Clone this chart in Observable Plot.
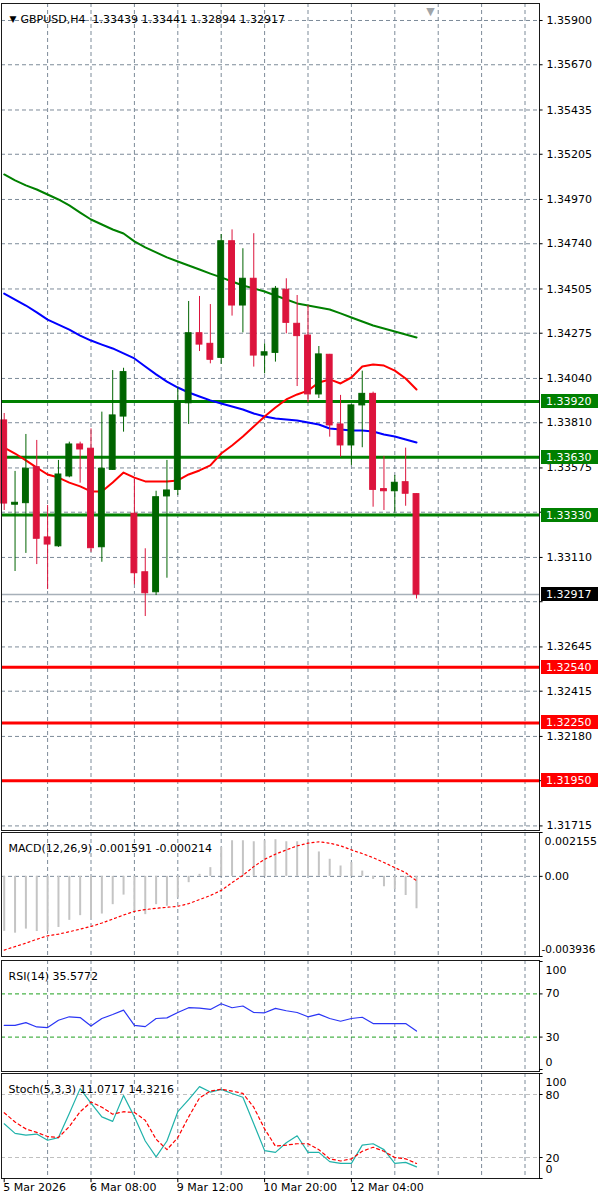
<!DOCTYPE html>
<html>
<head>
<meta charset="utf-8">
<script src="https://cdn.jsdelivr.net/npm/d3@7"></script>
<script src="https://cdn.jsdelivr.net/npm/@observablehq/plot@0.6"></script>
<style>
html, body { margin: 0; padding: 0; background: #fff; }
#chart { position: relative; width: 600px; height: 1201px; overflow: hidden; background: #fff; }
#chart svg { position: absolute; left: 0; }
</style>
</head>
<body>
<div id="chart"></div>
<script>
// ---------------- DATA ----------------
const symbol = "GBPUSD,H4";
const dateTickBars = [0, 8, 16, 24, 32];
const dateTickLabels = ["5 Mar 2026", "6 Mar 08:00", "9 Mar 12:00", "10 Mar 20:00", "12 Mar 04:00"];

const open  = [1.33822,1.33384,1.33392,1.33579,1.33214,1.33168,1.33531,1.33697,1.33675,1.33163,1.33565,1.33842,1.33337,1.33033,1.32929,1.33427,1.33461,1.33911,1.34275,1.34220,1.34147,1.34753,1.34419,1.34558,1.34159,1.34173,1.34501,1.34324,1.34263,1.33957,1.34163,1.33801,1.33692,1.33900,1.33960,1.33465,1.33454,1.33501,1.33439];
const high  = [1.33858,1.33557,1.33749,1.33718,1.33380,1.33614,1.33709,1.33709,1.33778,1.33865,1.34081,1.34093,1.33519,1.33155,1.33454,1.33614,1.33995,1.34440,1.34466,1.34424,1.34788,1.34812,1.34714,1.34792,1.34220,1.34518,1.34558,1.34471,1.34419,1.34206,1.34165,1.33952,1.33905,1.34078,1.33969,1.33635,1.33536,1.33678,1.33441];
const low   = [1.33354,1.33037,1.33131,1.33073,1.32943,1.33162,1.33524,1.33496,1.33137,1.33085,1.33562,1.33761,1.32968,1.32803,1.32912,1.33002,1.33432,1.33801,1.34180,1.34116,1.34113,1.34364,1.34277,1.34099,1.34064,1.34125,1.34272,1.33998,1.33915,1.33936,1.33735,1.33631,1.33588,1.33680,1.33371,1.33354,1.33340,1.33376,1.32894];
const close = [1.33390,1.33394,1.33571,1.33207,1.33177,1.33541,1.33697,1.33671,1.33158,1.33571,1.33848,1.34073,1.33028,1.32924,1.33423,1.33458,1.33920,1.34275,1.34216,1.34137,1.34753,1.34419,1.34558,1.34159,1.34176,1.34506,1.34329,1.34260,1.33957,1.34165,1.33796,1.33692,1.33900,1.33960,1.33461,1.33454,1.33498,1.33441,1.32917];

const maSlow = [1.35100,1.35069,1.35043,1.35022,1.34996,1.34970,1.34939,1.34902,1.34866,1.34840,1.34814,1.34793,1.34752,1.34721,1.34695,1.34669,1.34648,1.34627,1.34606,1.34585,1.34565,1.34544,1.34523,1.34508,1.34492,1.34471,1.34450,1.34430,1.34419,1.34409,1.34398,1.34378,1.34357,1.34336,1.34315,1.34300,1.34284,1.34268,1.34253];
const maMid  = [1.34481,1.34450,1.34419,1.34383,1.34346,1.34320,1.34294,1.34263,1.34237,1.34216,1.34196,1.34170,1.34144,1.34102,1.34061,1.34024,1.33993,1.33967,1.33946,1.33926,1.33910,1.33894,1.33879,1.33858,1.33842,1.33832,1.33827,1.33822,1.33811,1.33801,1.33780,1.33775,1.33770,1.33770,1.33764,1.33749,1.33738,1.33723,1.33707];
const maFast = [1.33681,1.33650,1.33614,1.33577,1.33541,1.33525,1.33499,1.33479,1.33453,1.33453,1.33499,1.33551,1.33525,1.33505,1.33505,1.33505,1.33510,1.33541,1.33562,1.33588,1.33650,1.33692,1.33738,1.33790,1.33842,1.33889,1.33931,1.33957,1.33977,1.34019,1.34035,1.34014,1.34045,1.34102,1.34113,1.34107,1.34081,1.34040,1.33983];

const resistanceLevels = [1.33920, 1.33630, 1.33330];
const supportLevels = [1.32540, 1.32250, 1.31950];

const priceGridTicks = [1.35900,1.35670,1.35435,1.35205,1.34970,1.34740,1.34505,1.34275,1.34040,1.33810,1.33575,1.33345,1.33110,1.32880,1.32645,1.32415,1.32180,1.31950,1.31715];
const priceTickLabels = [1.35900,1.35670,1.35435,1.35205,1.34970,1.34740,1.34505,1.34275,1.34040,1.33810,1.33575,1.33110,1.32645,1.32415,1.32180,1.31715];

const macdHist = [-0.00270,-0.00279,-0.00259,-0.00271,-0.00270,-0.00251,-0.00216,-0.00193,-0.00210,-0.00185,-0.00139,-0.00092,-0.00173,-0.00188,-0.00139,-0.00147,-0.00106,-0.00031,0.00010,0.00043,0.00142,0.00175,0.00175,0.00170,0.00175,0.00180,0.00170,0.00170,0.00158,0.00120,0.00084,0.00051,0.00068,0.00026,-0.00015,-0.00051,-0.00064,-0.00094,-0.001591];
const macdSignal = [-0.00362,-0.00345,-0.00328,-0.00309,-0.00292,-0.00284,-0.00272,-0.00259,-0.00246,-0.00229,-0.00210,-0.00190,-0.00172,-0.00163,-0.00157,-0.00152,-0.00147,-0.00134,-0.00114,-0.00094,-0.00069,-0.00031,0.00005,0.00048,0.00084,0.00109,0.00130,0.00150,0.00163,0.00170,0.00163,0.00150,0.00130,0.00112,0.00092,0.00068,0.00043,0.00018,-0.000214];
const macdTickValues = [0.002155, 0, -0.003936];
const macdTickLabels = ["0.002155", "0.00", "-0.003936"];

const rsi = [40.9,40.9,43.4,39.4,38.8,45.6,48.8,48.1,40.3,47.2,50.9,55.0,40.9,39.7,47.2,47.8,52.8,57.2,56.9,55.6,60.9,57.2,58.8,52.8,52.5,56.6,54.4,52.8,48.8,51.3,47.2,44.7,47.2,48.4,42.5,42.5,42.5,42.5,35.5772];
const rsiLevels = [70, 30];
const rsiTickValues = [100, 70, 30, 0];

const stochK = [52.1,43.0,41.3,42.3,36.4,39.0,62.0,85.6,71.8,58.7,54.4,79.0,58.7,35.7,20.6,35.7,63.6,75.1,87.5,82.3,84.9,81.0,77.4,52.1,26.6,24.9,34.1,40.7,24.9,24.9,16.1,14.4,14.4,31.8,33.1,27.5,14.4,15.4,11.0717];
const stochD = [62.6,53.8,47.2,43.9,40.0,39.0,49.5,63.6,72.8,67.9,61.3,63.6,62.9,55.4,37.4,27.5,39.0,58.7,76.7,83.3,84.9,83.3,81.0,67.9,47.2,30.8,31.8,33.1,33.1,27.5,18.7,16.7,18.7,25.9,29.8,25.9,20.0,18.7,14.3216];
const stochLevels = [80, 20];
const stochTickValues = [100, 80, 20, 0];

// ---------------- STYLE / LAYOUT ----------------
const W = 600;
const FONT = "DejaVu Sans";
const FS = 11;
const GRID = "#7d8b99";
const DASH = "4,3";
const UP = "#006400";
const DN = "#dc143c";
const FRAME = "#1a1a1a";
const xDomain = [-0.249, 49.336];
const mL = 1, mR = 61;

const n = close.length;
const idx = d3.range(n);
const bars = idx.map(i => ({i, o: open[i], h: high[i], l: low[i], c: close[i]}));
const ups = bars.filter(d => d.c >= d.o);
const downs = bars.filter(d => d.c < d.o);
const gridBars = d3.range(4, 49, 4);
const last = n - 1;

const txt = {fontFamily: FONT, fontSize: FS, fill: "#000"};

function rightTicks(values) {
  return Plot.ruleY(values, {x1: xDomain[1], x2: xDomain[1] + 0.33, stroke: "#000"});
}

function priceBoxes(items) {
  return (index, scales, values, dim) => {
    const g = d3.create("svg:g");
    const x0 = dim.width - dim.marginRight + 2;
    for (const d of items) {
      const y = Math.round(scales.y(d.value));
      g.append("rect").attr("x", x0).attr("y", y - 7).attr("width", 57).attr("height", 14).attr("fill", d.bg);
      g.append("text").attr("x", x0 + 5).attr("y", y).attr("dy", "0.36em")
        .attr("text-anchor", "start")
        .attr("fill", "#fff").attr("font-family", FONT).attr("font-size", FS).text(d.value.toFixed(5));
    }
    return g.node();
  };
}

const chart = document.getElementById("chart");
function place(svg, top) {
  svg.style.top = top + "px";
  svg.style.position = "absolute";
  svg.style.background = "transparent";
  chart.appendChild(svg);
}

// ---------------- MAIN PRICE PANEL ----------------
const header = `${symbol}  ${open[last].toFixed(5)} ${high[last].toFixed(5)} ${low[last].toFixed(5)} ${close[last].toFixed(5)}`;
const boxes = [
  ...resistanceLevels.map(v => ({value: v, bg: "#008000"})),
  ...supportLevels.map(v => ({value: v, bg: "#ff0000"})),
  {value: close[last], bg: "#000000"}
];

const mainPlot = Plot.plot({
  width: W, height: 833,
  marginTop: 3, marginBottom: 3, marginLeft: mL, marginRight: mR,
  style: {background: "transparent"},
  x: {domain: xDomain, axis: null},
  y: {domain: [1.316912, 1.359883], axis: null},
  marks: [
    Plot.ruleY(priceGridTicks, {stroke: GRID, strokeDasharray: DASH}),
    Plot.ruleX(gridBars, {stroke: GRID, strokeDasharray: DASH}),
    Plot.ruleY([close[last]], {stroke: "#a7b0b9", strokeWidth: 1.5}),
    Plot.ruleY(resistanceLevels, {stroke: "#008000", strokeWidth: 3}),
    Plot.ruleY(supportLevels, {stroke: "#ff0000", strokeWidth: 3}),
    Plot.line(idx, {x: i => i, y: i => maSlow[i], stroke: "#008000", strokeWidth: 2}),
    Plot.line(idx, {x: i => i, y: i => maMid[i], stroke: "#0000ff", strokeWidth: 2}),
    Plot.line(idx, {x: i => i, y: i => maFast[i], stroke: "#ff0000", strokeWidth: 2}),
    Plot.ruleX(ups, {x: "i", y1: "l", y2: "h", stroke: UP}),
    Plot.ruleX(downs, {x: "i", y1: "l", y2: "h", stroke: DN}),
    Plot.rect(ups, {x1: d => d.i - 0.27, x2: d => d.i + 0.27, y1: "o", y2: "c", fill: UP, stroke: UP}),
    Plot.rect(downs, {x1: d => d.i - 0.27, x2: d => d.i + 0.27, y1: "o", y2: "c", fill: DN, stroke: DN}),
    Plot.frame({stroke: FRAME}),
    rightTicks(priceGridTicks),
    Plot.text(priceTickLabels, {y: d => d, text: d => d.toFixed(5), frameAnchor: "right", dx: 7, textAnchor: "start", ...txt}),
    priceBoxes(boxes),
    Plot.text(["▼"], {frameAnchor: "top-left", dx: 8, dy: 12, fontSize: 9, fontFamily: FONT, fill: "#000"}),
    Plot.text([header], {frameAnchor: "top-left", dx: 19, dy: 12, textAnchor: "start", ...txt}),
    Plot.text(["▼"], {frameAnchor: "top", dx: 160, dy: 4, fontSize: 11, fontFamily: FONT, fill: "#a0a4a8"})
  ]
});
place(mainPlot, 0);

// ---------------- MACD PANEL ----------------
const macdLabel = `MACD(12,26,9) ${macdHist[last].toFixed(6)} ${macdSignal[last].toFixed(6)}`;
const macdPlot = Plot.plot({
  width: W, height: 128,
  marginTop: 2, marginBottom: 2, marginLeft: mL, marginRight: mR,
  style: {background: "transparent"},
  x: {domain: xDomain, axis: null},
  y: {domain: [macdTickValues[2], macdTickValues[0]], axis: null},
  marks: [
    Plot.ruleX(gridBars, {stroke: GRID, strokeDasharray: DASH}),
    Plot.ruleY([0], {stroke: GRID, strokeDasharray: DASH}),
    Plot.ruleX(idx, {x: i => i, y1: 0, y2: i => macdHist[i], stroke: "#c4c4c4", strokeWidth: 2}),
    Plot.line(idx, {x: i => i, y: i => macdSignal[i], stroke: "#ff0000", strokeDasharray: "2,3", strokeWidth: 1.2}),
    Plot.frame({stroke: FRAME}),
    Plot.text([macdLabel], {frameAnchor: "top-left", dx: 7, dy: 12, textAnchor: "start", ...txt}),
    rightTicks(macdTickValues),
    Plot.text([0], {y: d => macdTickValues[0], text: d => macdTickLabels[0], frameAnchor: "right", dx: 5, dy: 9, textAnchor: "start", ...txt}),
    Plot.text([1], {y: d => macdTickValues[1], text: d => macdTickLabels[1], frameAnchor: "right", dx: 5, textAnchor: "start", ...txt}),
    Plot.text([2], {y: d => macdTickValues[2], text: d => macdTickLabels[2], frameAnchor: "right", dx: 2, dy: -7, textAnchor: "start", fontFamily: FONT, fontSize: 10.5, fill: "#000"})
  ]
});
place(macdPlot, 830);

// ---------------- RSI PANEL ----------------
const rsiLabel = `RSI(14) ${rsi[last].toFixed(4)}`;
const rsiPlot = Plot.plot({
  width: W, height: 115,
  marginTop: 2, marginBottom: 2, marginLeft: mL, marginRight: mR,
  style: {background: "transparent"},
  x: {domain: xDomain, axis: null},
  y: {domain: [0, 100], range: [111, 3], axis: null},
  marks: [
    Plot.ruleX(gridBars, {stroke: GRID, strokeDasharray: DASH}),
    Plot.ruleY(rsiLevels, {stroke: "#1ea01e", strokeDasharray: DASH}),
    Plot.line(idx, {x: i => i, y: i => rsi[i], stroke: "#2a35f5", strokeWidth: 1.2}),
    Plot.frame({stroke: FRAME}),
    Plot.text([rsiLabel], {frameAnchor: "top-left", dx: 7, dy: 12, textAnchor: "start", ...txt}),
    rightTicks(rsiTickValues),
    Plot.text([rsiTickValues[0]], {y: d => d, text: d => String(d), frameAnchor: "right", dx: 6, dy: 9, textAnchor: "start", ...txt}),
    Plot.text(rsiTickValues.slice(1, 3), {y: d => d, text: d => String(d), frameAnchor: "right", dx: 6, textAnchor: "start", ...txt}),
    Plot.text([rsiTickValues[3]], {y: d => d, text: d => String(d), frameAnchor: "right", dx: 6, dy: -7, textAnchor: "start", ...txt})
  ]
});
place(rsiPlot, 958);

// ---------------- STOCHASTIC PANEL ----------------
const stochLabel = `Stoch(5,3,3) ${stochK[last].toFixed(4)} ${stochD[last].toFixed(4)}`;
const stochPlot = Plot.plot({
  width: W, height: 130,
  marginTop: 2, marginBottom: 23, marginLeft: mL, marginRight: mR,
  style: {background: "transparent"},
  x: {domain: xDomain, axis: null},
  y: {domain: [0, 100], axis: null},
  marks: [
    Plot.ruleX(gridBars, {stroke: GRID, strokeDasharray: DASH}),
    Plot.ruleY(stochLevels, {stroke: "#c0c0c0", strokeDasharray: DASH}),
    Plot.line(idx, {x: i => i, y: i => stochK[i], stroke: "#20b2aa", strokeWidth: 1.2}),
    Plot.line(idx, {x: i => i, y: i => stochD[i], stroke: "#ff0000", strokeDasharray: "3,3", strokeWidth: 1.2}),
    Plot.frame({stroke: FRAME}),
    Plot.text([stochLabel], {frameAnchor: "top-left", dx: 7, dy: 12, textAnchor: "start", ...txt}),
    rightTicks(stochTickValues),
    Plot.text([stochTickValues[0]], {y: d => d, text: d => String(d), frameAnchor: "right", dx: 6, dy: 9, textAnchor: "start", ...txt}),
    Plot.text(stochTickValues.slice(1, 3), {y: d => d, text: d => String(d), frameAnchor: "right", dx: 6, dy: 1, textAnchor: "start", ...txt}),
    Plot.text([stochTickValues[3]], {y: d => d, text: d => String(d), frameAnchor: "right", dx: 6, dy: -9, textAnchor: "start", ...txt}),
    Plot.ruleX(dateTickBars, {y1: 0, y2: -4, stroke: "#000"}),
    Plot.text(dateTickBars, {x: d => d, text: (d, k) => dateTickLabels[k], frameAnchor: "bottom", dy: 12, dx: -1, textAnchor: "start", ...txt})
  ]
});
place(stochPlot, 1071);
</script>
</body>
</html>
